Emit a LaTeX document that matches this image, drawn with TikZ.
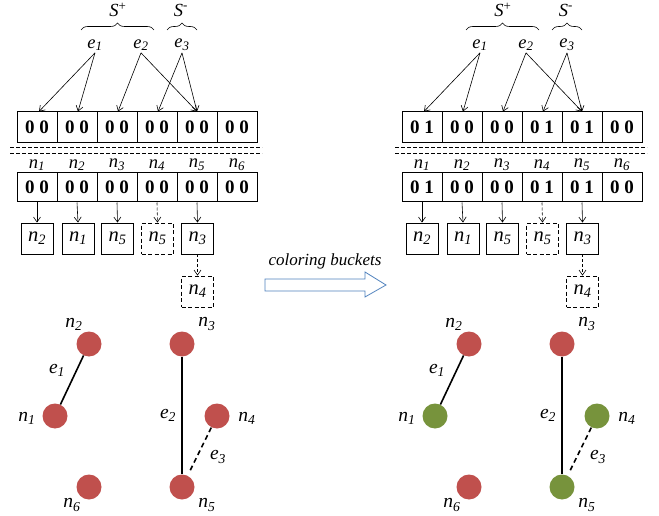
\documentclass[tikz,border=0pt]{standalone}
\usepackage{fontspec}
\setmainfont{Liberation Serif}
\usetikzlibrary{arrows.meta,decorations.pathreplacing}
\definecolor{nred}{RGB}{192,80,77}
\definecolor{ngreen}{RGB}{119,147,60}
\definecolor{arrblue}{RGB}{79,129,189}
\newcommand\nsub[2]{\textit{#1\textsubscript{#2}}}
\tikzset{
  cell/.style={draw, line width=1pt, minimum width=40pt, minimum height=31pt, inner sep=0pt, font=\fontsize{19}{19}\selectfont\bfseries},
  cellb/.style={cell, minimum height=29pt},
  bucket/.style={draw, line width=0.9pt, minimum width=32pt, minimum height=31pt, inner sep=0pt, font=\fontsize{20.5}{20.5}\selectfont},
  dbucket/.style={bucket, dashed, dash pattern=on 4pt off 2.5pt},
  lbl/.style={font=\fontsize{18.5}{18.5}\selectfont, inner sep=0pt},
  glbl/.style={font=\fontsize{19.5}{19.5}\selectfont, inner sep=0pt},
  ptr/.style={-{Straight Barb[length=5pt,width=7pt]}, line width=0.6pt},
  dptr/.style={ptr, dashed, dash pattern=on 3pt off 2pt},
  vert/.style={circle, minimum size=25pt, inner sep=0pt},
  gedge/.style={line width=1.6pt},
  brc/.style={decorate, decoration={brace, amplitude=7pt}, line width=0.6pt},
  sep/.style={line width=0.6pt, dash pattern=on 4pt off 2pt},
}
\newcommand\drawupper[8]{%
  \begin{scope}[xshift=#2pt]
    \node[lbl] (#1Sp) at (118,10) {\textit{S}\textsuperscript{+}};
    \node[lbl] (#1Sm) at (181,10) {\textit{S}\textsuperscript{-}};
    \draw[brc] (81,30) -- (154,30);
    \draw[brc] (167,30) -- (197,30);
    \node[lbl] (#1e1) at (95,45) {\nsub{e}{1}};
    \node[lbl] (#1e2) at (141,45) {\nsub{e}{2}};
    \node[lbl] (#1e3) at (182,45) {\nsub{e}{3}};
    \node[cell] (#1c0) at (37,127.5) {#3};
    \node[cell] (#1c1) at (77,127.5) {#4};
    \node[cell] (#1c2) at (117,127.5) {#5};
    \node[cell] (#1c3) at (157,127.5) {#6};
    \node[cell] (#1c4) at (197,127.5) {#7};
    \node[cell] (#1c5) at (237,127.5) {#8};
    \draw[ptr] ([yshift=-2pt]#1e1.south) -- ([xshift=2pt]#1c0.north);
    \draw[ptr] ([yshift=-2pt]#1e1.south) -- ([xshift=1pt]#1c1.north);
    \draw[ptr] ([yshift=-2pt]#1e2.south) -- ([xshift=1pt]#1c2.north);
    \draw[ptr] ([yshift=-2pt]#1e2.south) -- (#1c4.north);
    \draw[ptr] ([yshift=-2pt]#1e3.south) -- ([xshift=1pt]#1c3.north);
    \draw[ptr] ([yshift=-2pt]#1e3.south) -- (#1c4.north);
    \draw[sep] (10,147.5) -- (262,147.5);
    \draw[sep] (10,153) -- (262,153);
    \foreach \i/\x in {1/37,2/77,3/117,4/157,5/197,6/237}
      \node[lbl] (#1nl\i) at (\x,165) {\nsub{n}{\i}};
    \node[cellb] (#1d0) at (37,187.5) {#3};
    \node[cellb] (#1d1) at (77,187.5) {#4};
    \node[cellb] (#1d2) at (117,187.5) {#5};
    \node[cellb] (#1d3) at (157,187.5) {#6};
    \node[cellb] (#1d4) at (197,187.5) {#7};
    \node[cellb] (#1d5) at (237,187.5) {#8};
    \node[bucket] (#1b0) at (37,238.5) {\nsub{n}{2}};
    \node[bucket] (#1b1) at (78,238.5) {\nsub{n}{1}};
    \node[bucket] (#1b2) at (117.5,238.5) {\nsub{n}{5}};
    \node[dbucket] (#1b3) at (157.5,238.5) {\nsub{n}{5}};
    \node[bucket] (#1b4) at (197.5,238.5) {\nsub{n}{3}};
    \node[dbucket] (#1b5) at (197.5,291.5) {\nsub{n}{4}};
    \draw[ptr] (#1d0.south) -- (#1b0.north);
    \draw[ptr] (#1d1.south) -- (#1b1.north);
    \draw[ptr] (#1d2.south) -- (#1b2.north);
    \draw[dptr] (#1d3.south) -- (#1b3.north);
    \draw[ptr] (#1d4.south) -- (#1b4.north);
    \draw[dptr] (#1b4.south) -- (#1b5.north);
  \end{scope}}
\newcommand\drawgraph[5]{%
  \begin{scope}[xshift=#2pt]
    \node[vert, fill=#3] (#1g1) at (55,416) {};
    \node[vert, fill=nred] (#1g2) at (89,344) {};
    \node[vert, fill=nred] (#1g3) at (182,344) {};
    \node[vert, fill=#4] (#1g4) at (217,416) {};
    \node[vert, fill=#5] (#1g5) at (182,487) {};
    \node[vert, fill=nred] (#1g6) at (89,487) {};
    \node[glbl] (#1gl1) at (27,418) {\nsub{n}{1}};
    \node[glbl] (#1gl2) at (74,324) {\nsub{n}{2}};
    \node[glbl] (#1gl3) at (207,324) {\nsub{n}{3}};
    \node[glbl] (#1gl4) at (247,418) {\nsub{n}{4}};
    \node[glbl] (#1gl5) at (207,505) {\nsub{n}{5}};
    \node[glbl] (#1gl6) at (72,505) {\nsub{n}{6}};
    \draw[gedge] (#1g1) -- (#1g2);
    \draw[gedge] (#1g3) -- (#1g5);
    \draw[gedge, dashed, dash pattern=on 5pt off 3.5pt, shorten <=6pt] (#1g5) -- (#1g4);
    \node[glbl] (#1ge1) at (57,370) {\nsub{e}{1}};
    \node[glbl] (#1ge2) at (168,415) {\nsub{e}{2}};
    \node[glbl] (#1ge3) at (218,457) {\nsub{e}{3}};
  \end{scope}}
\begin{document}
\begin{tikzpicture}[x=1pt, y=-1pt]
  \useasboundingbox (0,0) rectangle (659,516);
  \drawupper{L}{0}{0 0}{0 0}{0 0}{0 0}{0 0}{0 0}
  \drawupper{R}{385}{0 1}{0 0}{0 0}{0 1}{0 1}{0 0}
  \drawgraph{L}{0}{nred}{nred}{nred}
  \drawgraph{R}{380}{ngreen}{ngreen}{ngreen}
  \draw[arrblue, line width=0.8pt, fill=white] (265,279) -- (365,279) -- (365,272) -- (386,285) -- (365,297) -- (365,291) -- (265,291) -- cycle;
  \node[font=\fontsize{17}{17}\selectfont\itshape, inner sep=0pt] (cb) at (325,261) {coloring buckets};
\end{tikzpicture}
\end{document}
